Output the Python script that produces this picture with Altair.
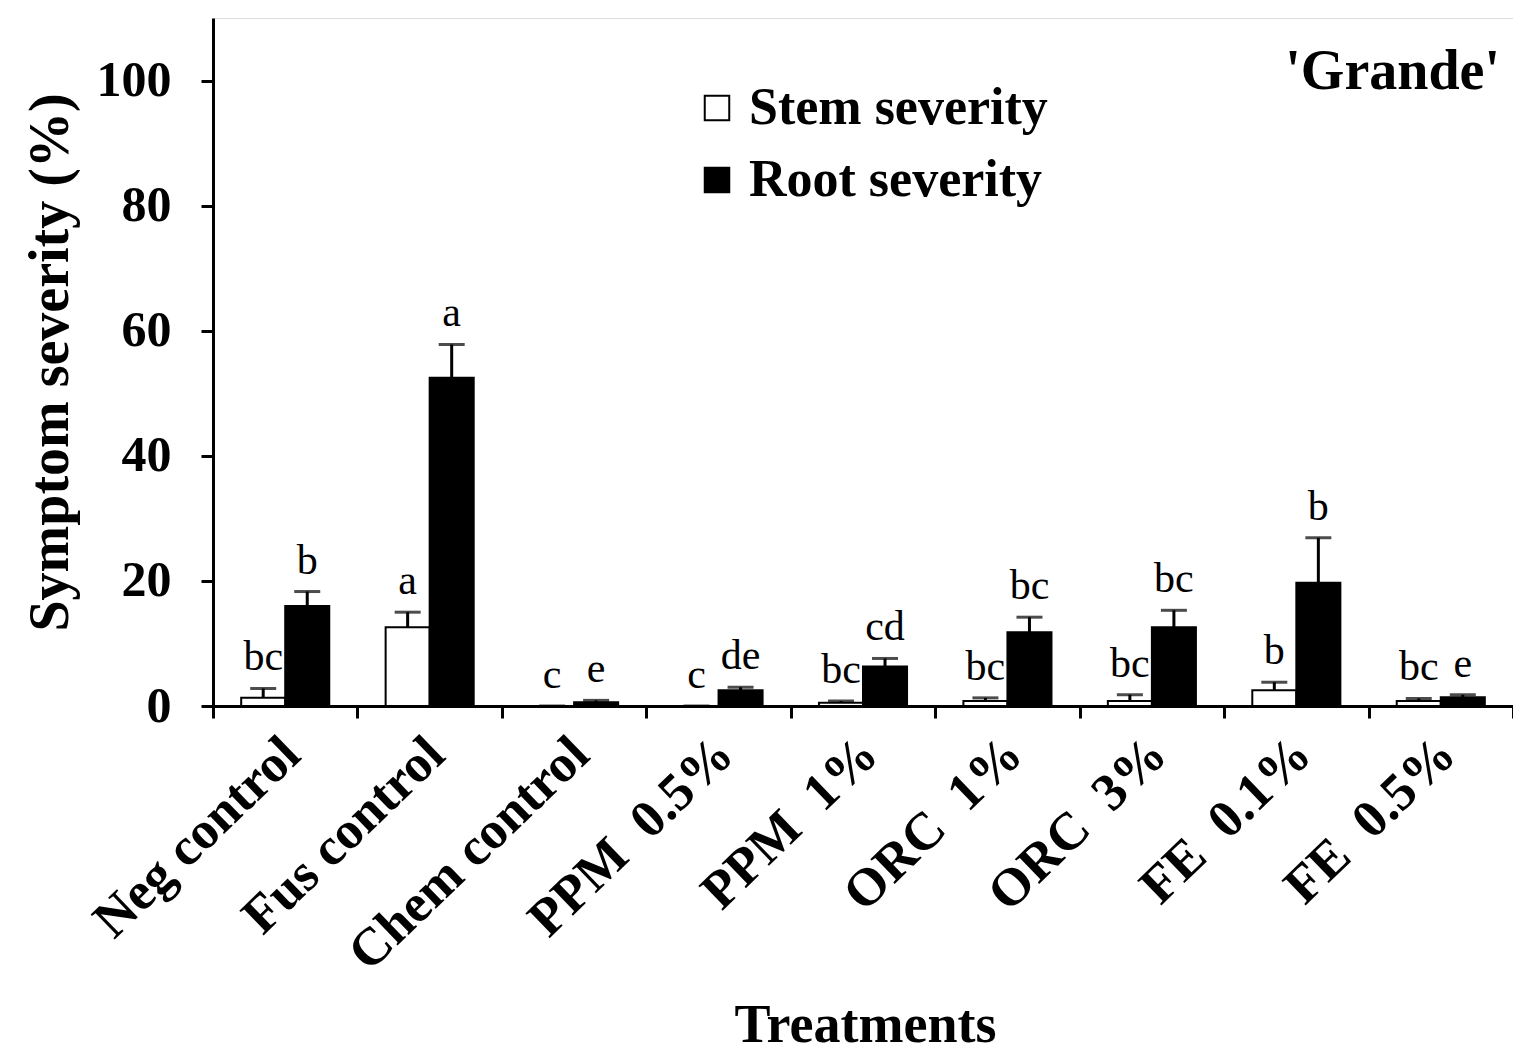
import altair as alt
import pandas as pd

categories = ["Neg control", "Fus control", "Chem control", "PPM\u00a0\u00a00.5%", "PPM\u00a0\u00a01%",
              "ORC\u00a0\u00a01%", "ORC\u00a0\u00a03%", "FE\u00a0\u00a00.1%", "FE\u00a0\u00a00.5%"]
series_names = ["Stem severity", "Root severity"]
stem = [1.3, 12.6, 0.0, 0.0, 0.5, 0.8, 0.8, 2.5, 0.8]
stem_err = [1.5, 2.4, 0.0, 0.0, 0.3, 0.5, 1.0, 1.3, 0.4]
root = [16.0, 52.5, 0.6, 2.5, 6.3, 11.8, 12.6, 19.7, 1.4]
root_err = [2.3, 5.3, 0.3, 0.5, 1.3, 2.4, 2.7, 7.2, 0.4]
stem_letters = ["bc", "a", "c", "c", "bc", "bc", "bc", "b", "bc"]
root_letters = ["b", "a", "e", "de", "cd", "bc", "bc", "b", "e"]
panel_label = "'Grande'"
y_ticks = [0, 20, 40, 60, 80, 100]

rows = []
for i, c in enumerate(categories):
    rows.append(dict(treatment=c, series=series_names[0], value=stem[i], err=stem_err[i],
                     top=stem[i] + stem_err[i], letter=stem_letters[i]))
    rows.append(dict(treatment=c, series=series_names[1], value=root[i], err=root_err[i],
                     top=root[i] + root_err[i], letter=root_letters[i]))
df = pd.DataFrame(rows)

FONT = "Liberation Serif"

x_enc = alt.X("treatment:N", sort=categories,
              scale=alt.Scale(paddingInner=0, paddingOuter=0),
              axis=alt.Axis(title="Treatments", labelAngle=316, labelAlign="right",
                            labelBaseline="middle", labelFont=FONT, labelFontSize=53,
                            labelFontWeight="bold", labelColor="black", labelPadding=28,
                            labelOffset=6, labelLimit=0, labelOverlap=False,
                            tickBand="extent", tickSize=12, tickWidth=3, tickColor="black",
                            domainColor="black", domainWidth=3,
                            titleFont=FONT, titleFontSize=54, titleFontWeight="bold",
                            titleColor="black", titleY=346, titleX=652, titleBaseline="bottom",
                            titleAlign="center"))
xo_enc = alt.XOffset("series:N", sort=series_names,
                     scale=alt.Scale(paddingInner=0, paddingOuter=0.64))
y_scale = alt.Scale(domain=[0, 110], nice=False)

base = alt.Chart(df)

bars = base.mark_bar(stroke="black", strokeWidth=2).encode(
    x=x_enc,
    xOffset=xo_enc,
    y=alt.Y("value:Q", scale=y_scale,
            axis=alt.Axis(values=y_ticks, title="Symptom severity (%)", grid=False,
                          tickSize=12, tickWidth=3, tickColor="black",
                          domainColor="black", domainWidth=3,
                          labelFont=FONT, labelFontSize=50, labelFontWeight="bold",
                          labelColor="black", labelPadding=30,
                          titleFont=FONT, titleFontSize=56, titleFontWeight="bold",
                          titleColor="black", titleAngle=270, titleX=-163, titleY=344,
                          titleAlign="center", titleBaseline="middle")),
    fill=alt.Fill("series:N", sort=series_names,
                  scale=alt.Scale(domain=series_names, range=["white", "black"]),
                  legend=alt.Legend(title=None, orient="none", legendX=478, legendY=64,
                                    symbolType="square", symbolSize=600,
                                    symbolStrokeColor="black", symbolStrokeWidth=2,
                                    labelFont=FONT, labelFontSize=52, labelFontWeight="bold",
                                    labelColor="black", rowPadding=20, labelOffset=6,
                                    labelLimit=600)),
)

err_rules = base.mark_rule(color="black", strokeWidth=3).encode(
    x=alt.X("treatment:N", sort=categories),
    xOffset=alt.XOffset("series:N", sort=series_names),
    y="value:Q",
    y2="top:Q",
)

caps = base.mark_tick(color="black", thickness=3, size=26).encode(
    x=alt.X("treatment:N", sort=categories),
    xOffset=alt.XOffset("series:N", sort=series_names),
    y="top:Q",
)

letters = base.mark_text(baseline="bottom", dy=-9, font=FONT, fontSize=42,
                         color="black").encode(
    x=alt.X("treatment:N", sort=categories),
    xOffset=alt.XOffset("series:N", sort=series_names),
    y="top:Q",
    text="letter:N",
)

label_df = pd.DataFrame({"label": [panel_label]})
grande = alt.Chart(label_df).mark_text(align="right", baseline="middle", font=FONT,
                                       fontSize=56, fontWeight="bold", color="black").encode(
    x=alt.value(1287), y=alt.value(54), text="label:N")

chart = alt.layer(bars, err_rules, caps, letters, grande).properties(
    width=1300, height=688,
    autosize=alt.AutoSizeParams(type="none"),
    padding={"left": 205, "top": 10, "right": 0, "bottom": 350},
).configure_view(stroke="black", strokeWidth=3).configure(background="white")

chart.save("out.html", embed_options={"renderer": "svg", "actions": False})
